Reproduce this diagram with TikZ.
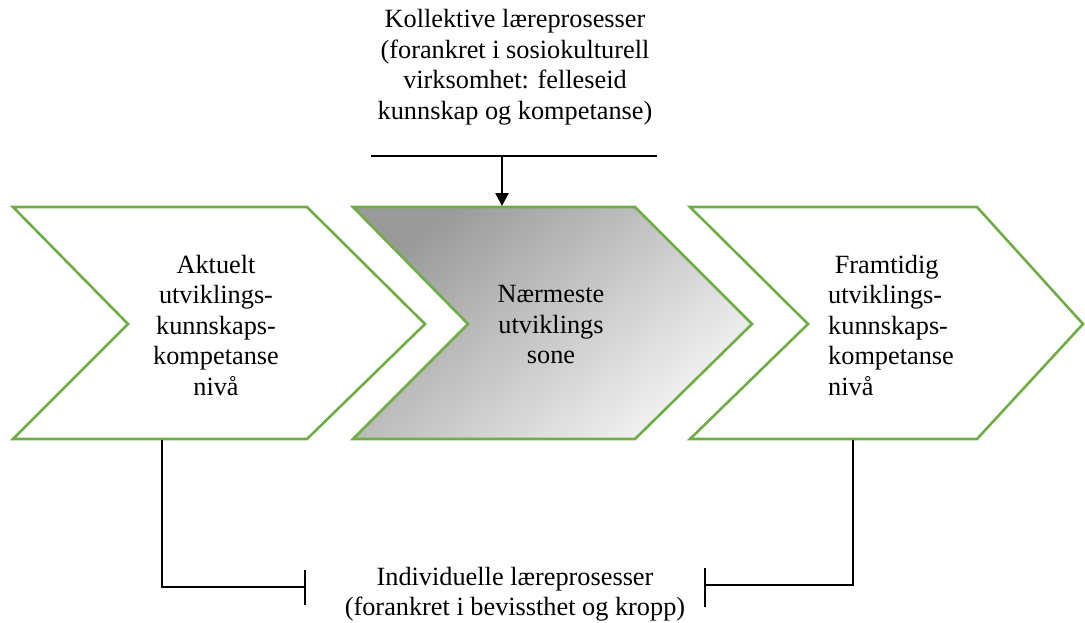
\documentclass[tikz,border=0pt]{standalone}
\usepackage{fontspec}
\setmainfont{Liberation Serif}
\usetikzlibrary{arrows.meta}
\definecolor{chevgreen}{HTML}{70AD47}
\definecolor{shdark}{HTML}{9A9A9A}
\definecolor{shlight}{HTML}{F4F4F4}
\begin{document}
\begin{tikzpicture}[x=1pt,y={(0pt,-1pt)},
  chev/.style={draw=chevgreen, line width=2.6pt, line join=miter},
  lbl/.style={align=center, inner sep=0pt, font=\fontsize{26.3}{30.5}\selectfont},
  conn/.style={draw=black, line width=2.4pt},
  tickbar/.style={draw=black, line width=2.4pt}]
\useasboundingbox (0,0) rectangle (1085,622);
% chevrons
\draw[chev, fill=white] (13,207) -- (307,207) -- (425,324) -- (307,439) -- (13,439) -- (128,324) -- cycle;
\path[shading=axis, top color=shdark, bottom color=shlight, shading angle=40]
  (353,207) -- (635,207) -- (752,324) -- (635,439) -- (353,439) -- (468,324) -- cycle;
\draw[chev] (353,207) -- (635,207) -- (752,324) -- (635,439) -- (353,439) -- (468,324) -- cycle;
\draw[chev, fill=white] (690,207) -- (977,207) -- (1083,324) -- (977,439) -- (690,439) -- (808,324) -- cycle;
% labels
\node[lbl] (akt) at (216,325) {Aktuelt\\utviklings-\\kunnskaps-\\kompetanse\\nivå};
\node[lbl] (nzone) at (551,325) {Nærmeste\\utviklings\\sone};
\node[lbl, align=left, anchor=west] (fram) at (828,325) {\hspace*{0.25em}Framtidig\\utviklings-\\kunnskaps-\\kompetanse\\nivå};
\node[lbl] (koll) at (515,67) {Kollektive læreprosesser\\(forankret i sosiokulturell\\virksomhet: felleseid\\kunnskap og kompetanse)};
\node[lbl] (indiv) at (515,594) {Individuelle læreprosesser\\(forankret i bevissthet og kropp)};
% top connector
\coordinate (tl) at (371,156);
\coordinate (tr) at (657,156);
\coordinate (tm) at (502,156);
\coordinate (mtop) at (502,206);
\draw[conn] (tl) -- (tr);
\draw[conn, -{Triangle[width=13pt,length=13pt]}] (tm) -- (mtop);
% bottom connectors
\coordinate (lb) at (162,440);
\coordinate (lc) at (162,587);
\coordinate (lt) at (305,587);
\coordinate (rb) at (853,440);
\coordinate (rc) at (853,585);
\coordinate (rt) at (705,585);
\draw[conn] (lb) -- (lc) -- (lt);
\draw[conn] (rb) -- (rc) -- (rt);
\draw[tickbar] (305,570) -- (305,605);
\draw[tickbar] (705,568) -- (705,607);
\end{tikzpicture}
\end{document}
